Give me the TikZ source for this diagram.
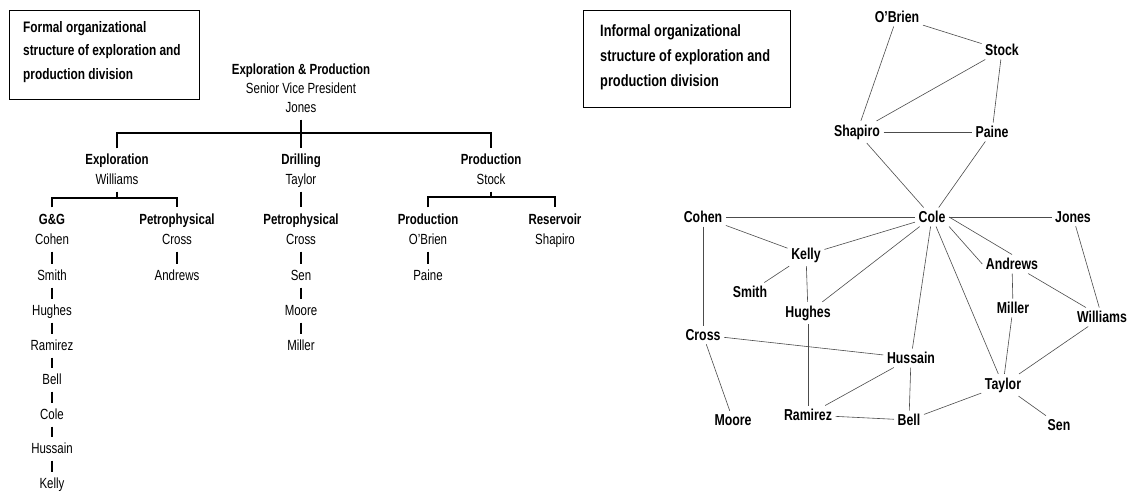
\documentclass[tikz,border=0pt]{standalone}
\usepackage{fontspec}
\setmainfont{Liberation Sans}[FakeStretch=0.78]
\begin{document}
\begin{tikzpicture}[x=1pt,y=-1pt,
  lbl/.style={inner sep=0pt, text height=10.5pt, text depth=2.5pt, font=\fontsize{14.7}{16}\selectfont},
  hd/.style={lbl, font=\fontsize{14.7}{16}\selectfont\bfseries},
  org/.style={line width=1.3pt, black},
  inf/.style={inner sep=3.5pt, font=\fontsize{15.8}{17}\selectfont\bfseries},
  link/.style={line width=0.6pt, black!70},
  titlebox/.style={draw, line width=1pt, inner sep=0pt},
  ttl/.style={inner sep=0pt, anchor=west, align=left}
]
\useasboundingbox (0,0) rectangle (1132,491);
\fill[white] (0,0) rectangle (1132,491);

% ---------- title boxes ----------
\node[titlebox, minimum width=190pt, minimum height=89pt] (box1) at (104,54.5) {};
\node[ttl, font=\fontsize{15.2}{23.5}\selectfont\bfseries] (t1) at (23,52)
  {Formal organizational\\structure of exploration and\\production division};
\node[titlebox, minimum width=207pt, minimum height=97pt] (box2) at (686.5,58.5) {};
\node[ttl, font=\fontsize{16.4}{25}\selectfont\bfseries] (t2) at (600,57)
  {Informal organizational\\structure of exploration and\\production division};

% ---------- formal chart ----------
\node[hd]  (ep)    at (301,70)  {Exploration \& Production};
\node[lbl] (svp)   at (301,89)  {Senior Vice President};
\node[lbl] (jones) at (301,108) {Jones};
\coordinate (bar) at (301,133);

\node[hd]  (expl)  at (117,160) {Exploration};
\node[lbl] (will)  at (117,180) {Williams};
\node[hd]  (dril)  at (301,160) {Drilling};
\node[lbl] (tay)   at (301,180) {Taylor};
\node[hd]  (prod)  at (491,160) {Production};
\node[lbl] (stock) at (491,180) {Stock};

\draw[org] ([yshift=-5pt]jones.south) -- ([yshift=5pt]dril.north);
\draw[org] ([yshift=5pt]expl.north) |- (bar) -| ([yshift=5pt]prod.north);

% Exploration subtree
\coordinate (wbar) at (117,198);
\node[hd]  (gg)    at (52,220)  {G\&G};
\node[lbl] (cohen) at (52,240)  {Cohen};
\node[lbl] (smith) at (52,276)  {Smith};
\node[lbl] (hugh)  at (52,311)  {Hughes};
\node[lbl] (rami)  at (52,346)  {Ramirez};
\node[lbl] (bell)  at (52,380)  {Bell};
\node[lbl] (cole)  at (52,415)  {Cole};
\node[lbl] (huss)  at (52,449)  {Hussain};
\node[lbl] (kelly) at (52,484)  {Kelly};
\node[hd]  (pet1)  at (177,220) {Petrophysical};
\node[lbl] (cross1) at (177,240) {Cross};
\node[lbl] (andr)  at (177,276) {Andrews};

\draw[org] ([yshift=-5pt]will.south) -- (wbar);
\draw[org] ([yshift=6pt]gg.north) |- (wbar) -| ([yshift=6pt]pet1.north);
\foreach \a/\b in {cohen/smith, smith/hugh, hugh/rami, rami/bell, bell/cole, cole/huss, huss/kelly, cross1/andr}
  \draw[org] ([yshift=-5pt]\a.south) -- ([yshift=5pt]\b.north);

% Drilling subtree
\node[hd]  (pet2)  at (301,220) {Petrophysical};
\node[lbl] (cross2) at (301,240) {Cross};
\node[lbl] (sen)   at (301,276) {Sen};
\node[lbl] (moore) at (301,311) {Moore};
\node[lbl] (mill)  at (301,346) {Miller};
\draw[org] ([yshift=-5pt]tay.south) -- ([yshift=6pt]pet2.north);
\foreach \a/\b in {cross2/sen, sen/moore, moore/mill}
  \draw[org] ([yshift=-5pt]\a.south) -- ([yshift=5pt]\b.north);

% Production subtree
\coordinate (sbar) at (491,197);
\node[hd]  (prod2) at (428,220) {Production};
\node[lbl] (obr)   at (428,240) {O'Brien};
\node[lbl] (paine) at (428,276) {Paine};
\node[hd]  (res)   at (555,220) {Reservoir};
\node[lbl] (shap)  at (555,240) {Shapiro};
\draw[org] ([yshift=-5pt]stock.south) -- (sbar);
\draw[org] ([yshift=6pt]prod2.north) |- (sbar) -| ([yshift=6pt]res.north);
\draw[org] ([yshift=-5pt]obr.south) -- ([yshift=5pt]paine.north);

% ---------- informal network ----------
\node[inf] (iobr)   at (897,17)  {O'Brien};
\node[inf] (istock) at (1002,50) {Stock};
\node[inf] (ishap)  at (857,132) {Shapiro};
\node[inf] (ipaine) at (992,132) {Paine};
\node[inf] (icohen) at (703,217) {Cohen};
\node[inf] (icole)  at (932,217) {Cole};
\node[inf] (ijones) at (1073,217) {Jones};
\node[inf] (ikelly) at (806,255) {Kelly};
\node[inf] (iandr)  at (1012,264) {Andrews};
\node[inf] (ismith) at (750,292) {Smith};
\node[inf] (imill)  at (1013,308) {Miller};
\node[inf] (ihugh)  at (808,313) {Hughes};
\node[inf] (iwill)  at (1102,317) {Williams};
\node[inf] (icross) at (703,335) {Cross};
\node[inf] (ihuss)  at (911,358) {Hussain};
\node[inf] (itay)   at (1003,385) {Taylor};
\node[inf] (irami)  at (808,415) {Ramirez};
\node[inf] (imoore) at (733,420) {Moore};
\node[inf] (ibell)  at (909,420) {Bell};
\node[inf] (isen)   at (1059,425) {Sen};

\foreach \a/\b in {iobr/istock, iobr/ishap, istock/ishap, istock/ipaine, ishap/ipaine,
  ishap/icole, ipaine/icole, icohen/icole, icohen/ikelly, icohen/icross,
  ikelly/icole, ikelly/ismith, ikelly/ihugh, ihugh/icole, ihugh/irami,
  icross/ihuss, icross/imoore, ihuss/irami, irami/ibell, icole/ihuss, ihuss/ibell,
  icole/ijones, iandr/imill, iandr/iwill, ijones/iwill, iwill/itay, imill/itay,
  icole/itay, itay/ibell, itay/isen}
  \draw[link] (\a) -- (\b);
\draw[link] (icole.east) -- (iandr.north);
\draw[link] (icole.south east) -- (iandr.west);
\end{tikzpicture}
\end{document}
